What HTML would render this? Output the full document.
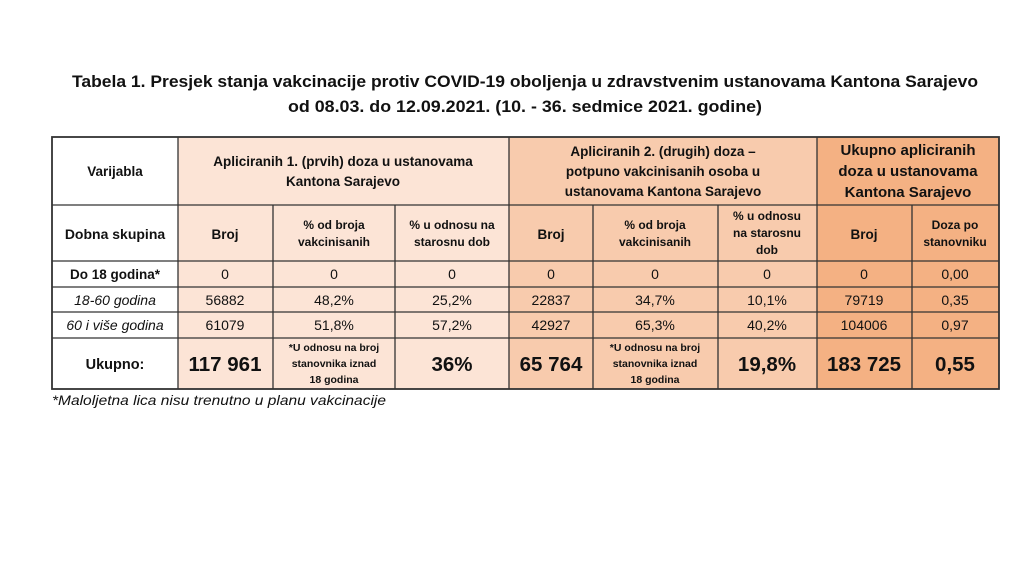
<!DOCTYPE html>
<html><head><meta charset="utf-8"><style>
html,body{margin:0;padding:0;background:#fff;}
svg{display:block;font-family:"Liberation Sans",sans-serif;}
</style></head><body>
<svg width="1024" height="576" viewBox="0 0 1024 576" xmlns="http://www.w3.org/2000/svg">
<rect width="1024" height="576" fill="#fff"/>
<g font-weight="bold" fill="#111" font-size="17">
<text x="72" y="87" textLength="906" lengthAdjust="spacingAndGlyphs">Tabela 1. Presjek stanja vakcinacije protiv COVID-19 oboljenja u zdravstvenim ustanovama Kantona Sarajevo</text>
<text x="288" y="112" textLength="474" lengthAdjust="spacingAndGlyphs">od 08.03. do 12.09.2021. (10. - 36. sedmice 2021. godine)</text>
</g>
<rect x="52" y="137" width="126" height="252" fill="#fff"/>
<rect x="178" y="137" width="331" height="252" fill="#fce4d6"/>
<rect x="509" y="137" width="308" height="252" fill="#f8cbad"/>
<rect x="817" y="137" width="182" height="252" fill="#f4b183"/>
<g stroke="#333" stroke-width="1.3" fill="none">
<rect x="52" y="137" width="947" height="252" stroke-width="1.8"/>
<line x1="52" y1="205" x2="999" y2="205"/>
<line x1="52" y1="261" x2="999" y2="261"/>
<line x1="52" y1="287" x2="999" y2="287"/>
<line x1="52" y1="312" x2="999" y2="312"/>
<line x1="52" y1="338" x2="999" y2="338"/>
<line x1="178" y1="137" x2="178" y2="389"/>
<line x1="509" y1="137" x2="509" y2="389"/>
<line x1="817" y1="137" x2="817" y2="389"/>
<line x1="273" y1="205" x2="273" y2="389"/>
<line x1="395" y1="205" x2="395" y2="389"/>
<line x1="593" y1="205" x2="593" y2="389"/>
<line x1="718" y1="205" x2="718" y2="389"/>
<line x1="912" y1="205" x2="912" y2="389"/>
</g>
<g font-weight="bold" fill="#111" text-anchor="middle" font-size="13.5">
<text x="115" y="176">Varijabla</text>
<text x="343" y="166">Apliciranih 1. (prvih) doza u ustanovama</text>
<text x="343" y="186">Kantona Sarajevo</text>
<text x="663" y="156">Apliciranih 2. (drugih) doza –</text>
<text x="663" y="176">potpuno vakcinisanih osoba u</text>
<text x="663" y="196">ustanovama Kantona Sarajevo</text>
<g font-size="15"><text x="908" y="155">Ukupno apliciranih</text>
<text x="908" y="176">doza u ustanovama</text>
<text x="908" y="197">Kantona Sarajevo</text></g>
<text x="115" y="239" font-size="14">Dobna skupina</text>
<text x="225" y="239">Broj</text>
<g font-size="12">
<text x="334" y="229">% od broja</text>
<text x="334" y="246">vakcinisanih</text>
<text x="452" y="229">% u odnosu na</text>
<text x="452" y="246">starosnu dob</text>
<text x="655" y="229">% od broja</text>
<text x="655" y="246">vakcinisanih</text>
<text x="767" y="220">% u odnosu</text>
<text x="767" y="237">na starosnu</text>
<text x="767" y="254">dob</text>
<text x="955" y="229">Doza po</text>
<text x="955" y="246">stanovniku</text>
</g>
<text x="551" y="239">Broj</text>
<text x="864" y="239">Broj</text>
<text x="115" y="279">Do 18 godina*</text>
<text x="115" y="369" font-size="14.5">Ukupno:</text>
</g>
<g fill="#111" text-anchor="middle" font-size="14">
<text x="115" y="305" font-style="italic">18-60 godina</text>
<text x="115" y="330" font-style="italic">60 i više godina</text>
<text x="225" y="279">0</text><text x="334" y="279">0</text><text x="452" y="279">0</text>
<text x="551" y="279">0</text><text x="655" y="279">0</text><text x="767" y="279">0</text>
<text x="864" y="279">0</text><text x="955" y="279">0,00</text>
<text x="225" y="305">56882</text><text x="334" y="305">48,2%</text><text x="452" y="305">25,2%</text>
<text x="551" y="305">22837</text><text x="655" y="305">34,7%</text><text x="767" y="305">10,1%</text>
<text x="864" y="305">79719</text><text x="955" y="305">0,35</text>
<text x="225" y="330">61079</text><text x="334" y="330">51,8%</text><text x="452" y="330">57,2%</text>
<text x="551" y="330">42927</text><text x="655" y="330">65,3%</text><text x="767" y="330">40,2%</text>
<text x="864" y="330">104006</text><text x="955" y="330">0,97</text>
</g>
<g font-weight="bold" fill="#111" text-anchor="middle">
<g font-size="20.5">
<text x="225" y="371">117 961</text>
<text x="452" y="371">36%</text>
<text x="551" y="371">65 764</text>
<text x="767" y="371">19,8%</text>
<text x="864" y="371">183 725</text>
<text x="955" y="371">0,55</text>
</g>
<g font-size="10.5">
<text x="334" y="351">*U odnosu na broj</text>
<text x="334" y="367">stanovnika iznad</text>
<text x="334" y="383">18 godina</text>
<text x="655" y="351">*U odnosu na broj</text>
<text x="655" y="367">stanovnika iznad</text>
<text x="655" y="383">18 godina</text>
</g>
</g>
<text x="52" y="405" font-size="14" font-style="italic" fill="#111" textLength="334" lengthAdjust="spacingAndGlyphs">*Maloljetna lica nisu trenutno u planu vakcinacije</text>
</svg>
</body></html>
